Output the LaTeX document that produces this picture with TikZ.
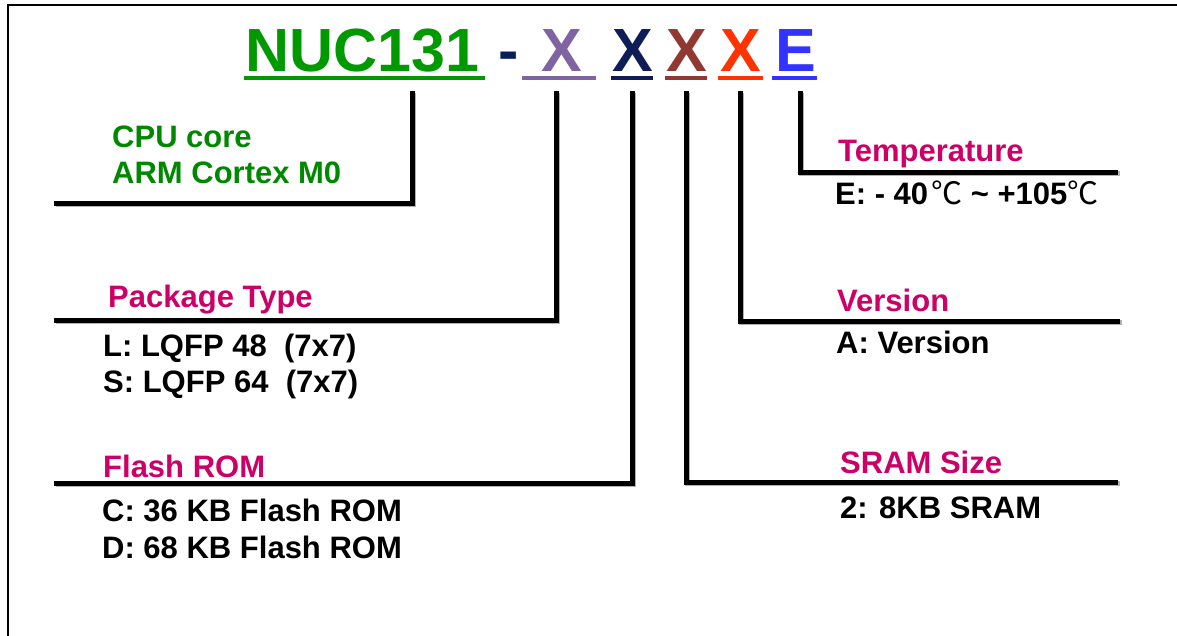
\documentclass[tikz,border=0pt]{standalone}
\usepackage{fontspec}
\setmainfont{Liberation Sans}
\newfontfamily\cjk{Noto Sans CJK SC}
\definecolor{nucgreen}{RGB}{0,153,0}
\definecolor{cpugreen}{RGB}{0,136,0}
\definecolor{headpink}{RGB}{204,0,102}
\definecolor{dashnavy}{RGB}{10,30,90}
\definecolor{xpurple}{RGB}{128,100,162}
\definecolor{xnavy}{RGB}{14,28,88}
\definecolor{xbrown}{RGB}{146,56,50}
\definecolor{xred}{RGB}{255,51,0}
\definecolor{eblue}{RGB}{51,51,255}
\tikzset{
  every node/.style={inner sep=0pt, anchor=base west},
  title/.style={font=\bfseries\fontsize{61}{61}\selectfont},
  head/.style={font=\bfseries\fontsize{31}{37}\selectfont, text=headpink},
  body/.style={font=\bfseries\fontsize{31}{37}\selectfont},
  ul/.style={line width=3.5pt},
  leader/.style={line width=5pt, line join=miter,
    preaction={draw=black!30, line width=5pt,
      transform canvas={shift={(1.5pt,-1.5pt)}}}},
}
\begin{document}
\begin{tikzpicture}[x=1pt, y=-1pt]
\useasboundingbox (0,0) rectangle (1177,635);
\clip (0,0) rectangle (1177,635);
\draw[line width=2.5pt] (8,5) rectangle (1200,660);

% part number
\node[title, text=nucgreen] (nuc) at (245,71) {NUC131};
\node[title, text=dashnavy] (dash) at (498,71) {-};
\node[title, text=xpurple] (xpkg) at (541,71) {X};
\node[title, text=xnavy] (xflash) at (612,71) {X};
\node[title, text=xbrown] (xsram) at (666,71) {X};
\node[title, text=xred] (xver) at (720,71) {X};
\node[title, text=eblue] (etemp) at (775,71) {E};
\draw[ul, nucgreen] ([xshift=-1pt,yshift=-7pt]nuc.base west) -- ([xshift=6pt,yshift=-7pt]nuc.base east);
\draw[ul, xpurple] ([xshift=-19pt,yshift=-7pt]xpkg.base west) -- ([xshift=14pt,yshift=-7pt]xpkg.base east);
\draw[ul, xnavy] ([xshift=-1pt,yshift=-7pt]xflash.base west) -- ([yshift=-7pt]xflash.base east);
\draw[ul, xbrown] ([xshift=-1pt,yshift=-7pt]xsram.base west) -- ([yshift=-7pt]xsram.base east);
\draw[ul, xred] ([xshift=-2pt,yshift=-7pt]xver.base west) -- ([xshift=2pt,yshift=-7pt]xver.base east);
\draw[ul, eblue] ([xshift=-3pt,yshift=-7pt]etemp.base west) -- ([xshift=1pt,yshift=-7pt]etemp.base east);

% leaders
\coordinate (cpuTop) at (412,91);   \coordinate (cpuEnd) at (54,203);
\coordinate (pkgTop) at (556,91);   \coordinate (pkgEnd) at (54,320);
\coordinate (flashTop) at (632,91); \coordinate (flashEnd) at (54,483);
\coordinate (sramTop) at (686,91);  \coordinate (sramEnd) at (1118,482);
\coordinate (verTop) at (740,91);   \coordinate (verEnd) at (1120,321);
\coordinate (tempTop) at (800,91);  \coordinate (tempEnd) at (1118,172);
\draw[leader] (cpuTop) |- (cpuEnd);
\draw[leader] (pkgTop) |- (pkgEnd);
\draw[leader] (flashTop) |- (flashEnd);
\draw[leader] (sramTop) |- (sramEnd);
\draw[leader] (verTop) |- (verEnd);
\draw[leader] (tempTop) |- (tempEnd);

% left labels
\node[body, text=cpugreen] (cpu1) at (112,147) {CPU core};
\node[body, text=cpugreen] (cpu2) at (112,183) {ARM Cortex M0};
\node[head] (pkgHead) at (108,307) {Package Type};
\node[body] (pkg1) at (103,356) {L: LQFP 48~ (7x7)};
\node[body] (pkg2) at (103,392) {S: LQFP 64~ (7x7)};
\node[head] (flashHead) at (103,477) {Flash ROM};
\node[body] (flash1) at (102,521) {C: 36 KB Flash ROM};
\node[body] (flash2) at (102,558) {D: 68 KB Flash ROM};

% right labels
\node[head] (tempHead) at (838,161) {Temperature};
\node[body] (temp1) at (835,204) {E: - 40\kern3pt{\mdseries\cjk ℃} \textasciitilde{} +105{\mdseries\cjk ℃}};
\node[head] (verHead) at (837,311) {Version};
\node[body] (ver1) at (836,353) {A: Version};
\node[head] (sramHead) at (840,473) {SRAM Size};
\node[body] (sram1) at (840,518) {2: 8KB SRAM};
\end{tikzpicture}
\end{document}
